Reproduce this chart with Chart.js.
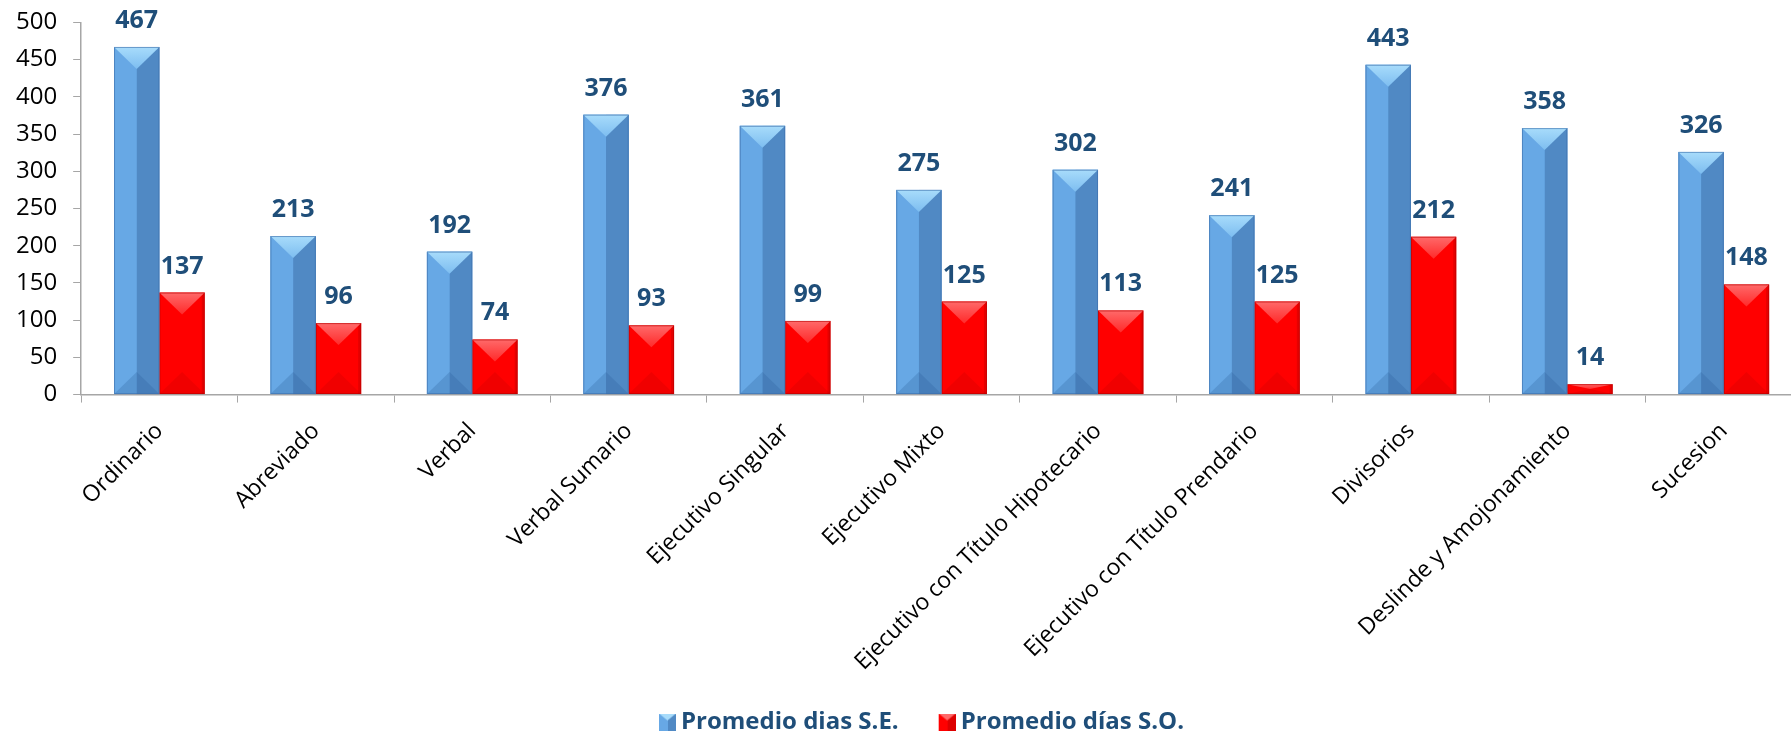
<!DOCTYPE html>
<html>
<head>
<meta charset="utf-8">
<script src="https://cdn.jsdelivr.net/npm/chart.js@4"></script>
<style>
  html, body { margin: 0; padding: 0; background: #fff; overflow: hidden; }
  #wrap { width: 1840px; height: 733px; }
</style>
</head>
<body>
<div id="wrap"><canvas id="chart" width="1840" height="733"></canvas></div>
<script>
// tipos de proceso y promedios de días
const categorias = ['Ordinario', 'Abreviado', 'Verbal', 'Verbal Sumario', 'Ejecutivo Singular',
  'Ejecutivo Mixto', 'Ejecutivo con Título Hipotecario', 'Ejecutivo con Título Prendario',
  'Divisorios', 'Deslinde y Amojonamiento', 'Sucesion'];
const promedioSE = [467, 213, 192, 376, 361, 275, 302, 241, 443, 358, 326];
const promedioSO = [137, 96, 74, 93, 99, 125, 113, 125, 212, 14, 148];
const ticksY = [0, 50, 100, 150, 200, 250, 300, 350, 400, 450, 500];

const AZUL = '#5a97d3';
const ROJO = '#ff0000';
const TEXTO = '#1f4e79';

// icono de la leyenda: cuadro biselado pegado al borde derecho de la imagen
function iconoLeyenda(base, claro, oscuro) {
  const c = document.createElement('canvas');
  c.width = 31; c.height = 17;
  const g = c.getContext('2d');
  g.translate(14, 0);
  g.fillStyle = base; g.fillRect(0, 0, 17, 17);
  g.fillStyle = oscuro; g.fillRect(9, 0, 8, 17);
  g.fillStyle = claro;
  g.beginPath(); g.moveTo(0, 0); g.lineTo(17, 0); g.lineTo(8.5, 7); g.closePath(); g.fill();
  return c;
}

// corre la leyenda un poco a la derecha
const leyendaDesplazada = {
  id: 'leyendaDesplazada',
  afterLayout(chart) {
    chart.legend.left += 17;
    chart.legend.right += 17;
  }
};

// sombreado tipo bisel + etiquetas de valor encima de cada barra
const bisel = {
  id: 'bisel',
  afterDatasetsDraw(chart) {
    const ctx = chart.ctx;
    chart.data.datasets.forEach((ds, i) => {
      const meta = chart.getDatasetMeta(i);
      meta.data.forEach((bar, j) => {
        const { x, y, width, base } = bar.getProps(['x', 'y', 'width', 'base'], true);
        const l = x - width / 2, r = x + width / 2;
        const h = base - y;
        const d = Math.min(width / 2, h / 2, 22);
        ctx.save();
        if (i === 0) {
          // mitad derecha más oscura
          ctx.fillStyle = '#5089c4';
          ctx.fillRect(x, y, r - x, h);
          ctx.fillStyle = '#67a8e5';
          ctx.fillRect(l, y, x - l, h);
          // franja inferior
          ctx.fillStyle = 'rgba(40,90,150,0.25)';
          ctx.beginPath(); ctx.moveTo(l, base); ctx.lineTo(x, base - d); ctx.lineTo(r, base); ctx.closePath(); ctx.fill();
          // cuña superior clara
          const gr = ctx.createLinearGradient(0, y, 0, y + d);
          gr.addColorStop(0, '#a8dcfb');
          gr.addColorStop(1, '#7dbdf0');
          ctx.fillStyle = gr;
          ctx.beginPath(); ctx.moveTo(l, y); ctx.lineTo(r, y); ctx.lineTo(x, y + d); ctx.closePath(); ctx.fill();
          ctx.strokeStyle = 'rgba(60,110,170,0.6)';
        } else {
          ctx.fillStyle = 'rgba(170,0,0,0.18)';
          ctx.beginPath(); ctx.moveTo(l, base); ctx.lineTo(x, base - d); ctx.lineTo(r, base); ctx.closePath(); ctx.fill();
          ctx.fillStyle = 'rgba(150,0,0,0.25)';
          ctx.fillRect(r - 3, y, 3, h);
          const gr = ctx.createLinearGradient(0, y, 0, y + d);
          gr.addColorStop(0, '#ff6a6a');
          gr.addColorStop(1, '#ff2a2a');
          ctx.fillStyle = gr;
          ctx.beginPath(); ctx.moveTo(l, y); ctx.lineTo(r, y); ctx.lineTo(x, y + d); ctx.closePath(); ctx.fill();
          ctx.strokeStyle = 'rgba(180,0,0,0.6)';
        }
        ctx.lineWidth = 1;
        ctx.strokeRect(l + 0.5, y + 0.5, width - 1, h - 1);
        ctx.restore();

        // valor
        ctx.save();
        ctx.font = 'bold 25px "Open Sans"';
        ctx.fillStyle = TEXTO;
        ctx.textAlign = 'center';
        ctx.textBaseline = 'alphabetic';
        ctx.fillText(ds.data[j], x, y - 19);
        ctx.restore();
      });
    });
  }
};

new Chart(document.getElementById('chart'), {
  type: 'bar',
  data: {
    labels: categorias,
    datasets: [
      { label: 'Promedio dias S.E.', data: promedioSE, backgroundColor: AZUL,
        pointStyle: iconoLeyenda('#67a8e5', '#a8dcfb', '#5089c4') },
      { label: 'Promedio días S.O.', data: promedioSO, backgroundColor: ROJO,
        pointStyle: iconoLeyenda('#ff0000', '#ff6a6a', '#dd0000') }
    ]
  },
  options: {
    responsive: false,
    animation: false,
    layout: { padding: { top: 0, right: 38, left: 0, bottom: -11 } },
    datasets: { bar: { categoryPercentage: 0.58, barPercentage: 1.0 } },
    scales: {
      x: {
        grid: { display: true, drawOnChartArea: false, offset: true, tickLength: 8, color: '#a6a6a6' },
        border: { color: '#a6a6a6', width: 1.5 },
        ticks: {
          color: '#000', font: { family: 'Open Sans', size: 23 },
          minRotation: 45, maxRotation: 45, padding: 15, autoSkip: false
        },
        afterFit: s => { s.height -= 14; }
      },
      y: {
        min: 0, max: 500,
        afterBuildTicks: ax => { ax.ticks = ticksY.map(v => ({ value: v })); },
        afterFit: s => { s.paddingTop = Math.max(0, s.paddingTop - 8); },
        grid: { display: true, drawOnChartArea: false, tickLength: 8, color: '#a6a6a6' },
        border: { color: '#a6a6a6', width: 1.5 },
        ticks: { color: '#000', font: { family: 'Open Sans', size: 24 }, padding: 16 }
      }
    },
    plugins: {
      legend: {
        position: 'bottom',
        labels: {
          usePointStyle: true,
          boxWidth: 17, boxHeight: 17,
          color: TEXTO,
          font: { family: 'Open Sans', size: 24, weight: 'bold' },
          padding: 33
        }
      },
      tooltip: { enabled: false }
    }
  },
  plugins: [bisel, leyendaDesplazada]
});
</script>
</body>
</html>
